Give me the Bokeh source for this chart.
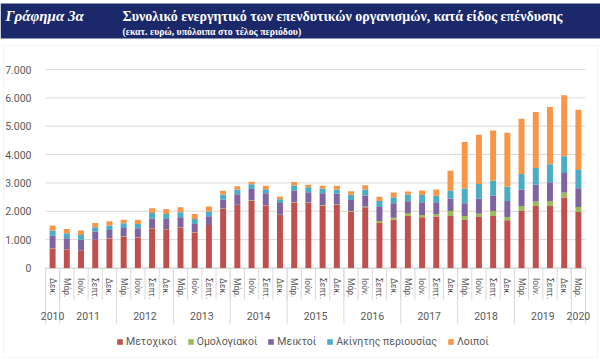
from bokeh.plotting import figure
from bokeh.models import (ColumnDataSource, Range1d, Legend, LegendItem, LinearAxis,
                          FixedTicker, Label, BoxAnnotation)
from bokeh.embed import file_html
from bokeh.resources import INLINE

# ---------------- data ----------------
years = ["2010",
         "2011", "2011", "2011", "2011",
         "2012", "2012", "2012", "2012",
         "2013", "2013", "2013", "2013",
         "2014", "2014", "2014", "2014",
         "2015", "2015", "2015", "2015",
         "2016", "2016", "2016", "2016",
         "2017", "2017", "2017", "2017",
         "2018", "2018", "2018", "2018",
         "2019", "2019", "2019", "2019",
         "2020"]
quarters = ["Δεκ.",
            "Μάρ.", "Ιούν.", "Σεπτ.", "Δεκ.",
            "Μάρ.", "Ιούν.", "Σεπτ.", "Δεκ.",
            "Μάρ.", "Ιούν.", "Σεπτ.", "Δεκ.",
            "Μάρ.", "Ιούν.", "Σεπτ.", "Δεκ.",
            "Μάρ.", "Ιούν.", "Σεπτ.", "Δεκ.",
            "Μάρ.", "Ιούν.", "Σεπτ.", "Δεκ.",
            "Μάρ.", "Ιούν.", "Σεπτ.", "Δεκ.",
            "Μάρ.", "Ιούν.", "Σεπτ.", "Δεκ.",
            "Μάρ.", "Ιούν.", "Σεπτ.", "Δεκ.",
            "Μάρ."]

metochikoi = [690, 665, 605, 995, 1040, 1115, 1075, 1405, 1370, 1430, 1255, 1515,
              2090, 2220, 2375, 2205, 1865, 2310, 2290, 2205, 2230, 1985, 2140,
              1590, 1700, 1850, 1790, 1820, 1835, 1690, 1800, 1835, 1680, 2010,
              2190, 2190, 2485, 1975]
omologiakoi = [5, 5, 5, 5, 5, 5, 5, 5, 5, 5, 5, 5,
               10, 10, 10, 10, 10, 20, 20, 20, 20, 25, 25,
               70, 70, 90, 80, 80, 175, 145, 115, 175, 120, 180,
               155, 175, 175, 180]
mikta = [445, 375, 390, 280, 295, 290, 320, 340, 355, 355, 290, 305,
         315, 375, 400, 420, 415, 400, 365, 415, 365, 390, 390,
         490, 510, 410, 450, 420, 440, 450, 535, 535, 565, 570,
         590, 655, 690, 660]
akinita = [180, 180, 165, 155, 155, 165, 150, 190, 175, 175, 180, 165,
           175, 160, 165, 145, 135, 175, 175, 165, 155, 180, 215,
           210, 215, 240, 255, 230, 270, 520, 510, 530, 500, 555,
           590, 635, 590, 640]
loipoi = [175, 150, 155, 155, 155, 130, 155, 165, 175, 175, 175, 175,
          130, 115, 95, 120, 100, 130, 85, 95, 130, 130, 150,
          150, 165, 110, 155, 215, 710, 1635, 1740, 1775, 1905, 1950,
          1975, 2025, 2155, 2130]

series_names = ["Μετοχικοί", "Ομολογιακοί", "Μεικτοί", "Ακίνητης περιουσίας", "Λοιποί"]
series_colors = ["#C0504D", "#9BBB59", "#8064A2", "#4BACC6", "#F79646"]

y_ticks = [0, 1000, 2000, 3000, 4000, 5000, 6000, 7000]
y_tick_labels = ["0", "1.000", "2.000", "3.000", "4.000", "5.000", "6.000", "7.000"]

header_left = "Γράφημα 3α"
title_text = "Συνολικό ενεργητικό των επενδυτικών οργανισμών, κατά είδος επένδυσης"
subtitle_text = "(εκατ. ευρώ, υπόλοιπα στο τέλος περιόδου)"

# ---------------- styling / layout (pixels) ----------------
NAVY = "#1B2869"
GREY_TEXT = "#595959"
LINE_GREY = "#D9D9D9"
FONT = "Roboto"
SERIF = "Liberation Serif"

W, H = 600, 363
PLOT_LEFT, PLOT_RIGHT = 45, 585      # plot area, px
PLOT_TOP, PLOT_BOTTOM = 69, 267.5    # y=7000 and y=0, px
Y_MAX = 7000

N = len(quarters)
PX_PER_CAT = (PLOT_RIGHT - PLOT_LEFT) / N
UNITS_PER_PX = Y_MAX / (PLOT_BOTTOM - PLOT_TOP)


def x_at(px):
    return (px - PLOT_LEFT) / PX_PER_CAT - 0.5


def y_at(py):
    return (PLOT_BOTTOM - py) * UNITS_PER_PX


# ---------------- figure (frame = whole canvas) ----------------
idx = list(range(N))
source = ColumnDataSource(data=dict(
    x=idx, s0=metochikoi, s1=omologiakoi, s2=mikta, s3=akinita, s4=loipoi,
))

p = figure(width=W, height=H, x_range=Range1d(x_at(0), x_at(W)), y_range=Range1d(y_at(H), y_at(0)),
           x_axis_location=None, y_axis_location=None,
           toolbar_location=None, output_backend="svg", min_border=0)
p.title.visible = False
p.grid.visible = False
p.outline_line_color = None
p.background_fill_color = "white"
p.border_fill_color = "white"

# horizontal gridlines over the plot area
p.segment(x0=[-0.5] * len(y_ticks), x1=[N - 0.5] * len(y_ticks), y0=y_ticks, y1=y_ticks,
          line_color=LINE_GREY, line_width=1)

# category tick marks and year separators below the axis
p.segment(x0=[i - 0.5 for i in range(N + 1)], x1=[i - 0.5 for i in range(N + 1)],
          y0=[0] * (N + 1), y1=[y_at(299)] * (N + 1), line_color=LINE_GREY, line_width=1)
year_bounds = [-0.5] + [i - 0.5 for i in range(1, N) if years[i] != years[i - 1]] + [N - 0.5]
p.segment(x0=year_bounds, x1=year_bounds, y0=[0] * len(year_bounds),
          y1=[y_at(323)] * len(year_bounds), line_color=LINE_GREY, line_width=1)

renderers = p.vbar_stack(["s0", "s1", "s2", "s3", "s4"], x="x", width=0.42,
                         color=series_colors, source=source, line_color=None)

# y axis (labels only)
yax = LinearAxis(fixed_location=-0.5, ticker=FixedTicker(ticks=y_ticks),
                 major_label_overrides={t: l for t, l in zip(y_ticks, y_tick_labels)},
                 axis_line_color=None, major_tick_line_color=None, minor_tick_line_color=None,
                 major_label_text_font=FONT, major_label_text_font_size="10.5px",
                 major_label_text_color=GREY_TEXT, major_label_standoff=8)
p.add_layout(yax, "left")

# x axis: quarter labels
xax = LinearAxis(fixed_location=0, bounds=(-0.5, N - 0.5), ticker=FixedTicker(ticks=idx),
                 major_label_overrides={i: q for i, q in zip(idx, quarters)},
                 axis_line_color=LINE_GREY, major_tick_line_color=None, minor_tick_line_color=None,
                 major_label_orientation="vertical",
                 major_label_text_font=FONT, major_label_text_font_size="8.5px",
                 major_label_text_color=GREY_TEXT, major_label_standoff=4)
p.add_layout(xax, "below")

# x axis: year labels centred on each year's group
year_names = []
year_centers = []
for y in years:
    if y not in year_names:
        year_names.append(y)
        pos = [i for i in idx if years[i] == y]
        year_centers.append(sum(pos) / len(pos))
gax = LinearAxis(fixed_location=0, ticker=FixedTicker(ticks=year_centers),
                 major_label_overrides={c: n for c, n in zip(year_centers, year_names)},
                 axis_line_color=None, major_tick_line_color=None, minor_tick_line_color=None,
                 major_label_text_font=FONT, major_label_text_font_size="10.5px",
                 major_label_text_color=GREY_TEXT, major_label_standoff=38)
p.add_layout(gax, "below")

# legend
legend = Legend(items=[LegendItem(label=n, renderers=[r]) for n, r in zip(series_names, renderers)],
                orientation="horizontal", location=(116, H - 348),
                label_text_font=FONT, label_text_font_size="10.5px", label_text_color=GREY_TEXT,
                glyph_width=7, glyph_height=7, label_standoff=3, spacing=10,
                label_height=13, label_width=10, border_line_color=None, background_fill_alpha=0,
                padding=2, margin=0)
p.add_layout(legend, "center")

# chart border
p.add_layout(BoxAnnotation(left=x_at(3), right=x_at(597), top=y_at(45), bottom=y_at(357),
                           fill_alpha=0, line_color=LINE_GREY, line_width=1))

# header band and texts
p.add_layout(BoxAnnotation(top=y_at(3), bottom=y_at(38), fill_color=NAVY, fill_alpha=1,
                           line_color=None, level="overlay"))
p.add_layout(Label(x=5, y=H - 15.5, x_units="screen", y_units="screen", text=header_left,
                   text_color="white", text_font=SERIF, text_font_size="15px",
                   text_font_style="bold italic", text_baseline="middle", level="overlay"))
p.add_layout(Label(x=122, y=H - 15.5, x_units="screen", y_units="screen", text=title_text,
                   text_color="white", text_font=SERIF, text_font_size="14px",
                   text_font_style="bold", text_baseline="middle", level="overlay"))
p.add_layout(Label(x=122, y=H - 30.5, x_units="screen", y_units="screen", text=subtitle_text,
                   text_color="white", text_font=SERIF, text_font_size="9.8px",
                   text_font_style="bold", text_baseline="middle", level="overlay"))

open("out.html", "w").write(file_html(p, INLINE))
